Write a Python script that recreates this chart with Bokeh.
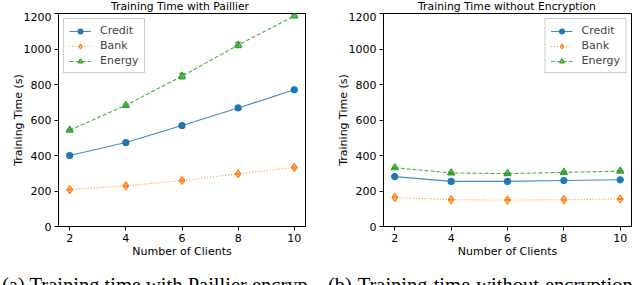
from bokeh.plotting import figure
from bokeh.layouts import row, column
from bokeh.models import (ColumnDataSource, Whisker, TeeHead, Legend, LegendItem,
                          FixedTicker, Range1d, Div)
from bokeh.embed import file_html
from bokeh.resources import INLINE

clients = [2, 4, 6, 8, 10]

# Training time with Paillier (left)
credit_pail = [400, 473, 569, 668, 770]
bank_pail = [208, 229, 259, 297, 333]
energy_pail = [543, 683, 847, 1022, 1186]
credit_pail_err = [3, 4, 5, 5, 6]
bank_pail_err = [3, 3, 4, 4, 5]
energy_pail_err = [5, 6, 16, 15, 8]

# Training time without encryption (right)
credit_plain = [281, 254, 254, 259, 263]
bank_plain = [164, 151, 149, 151, 155]
energy_plain = [331, 302, 298, 305, 312]
credit_plain_err = [3, 3, 3, 3, 3]
bank_plain_err = [3, 3, 3, 3, 3]
energy_plain_err = [4, 4, 4, 4, 4]

series_names = ["Credit", "Bank", "Energy"]
colors = ["#1f77b4", "#ff7f0e", "#2ca02c"]
y_ticks = [0, 200, 400, 600, 800, 1000, 1200]

titles = ["Training Time with Paillier", "Training Time without Encryption"]
captions = ["(a) Training time with Paillier encryp-", "(b) Training time without encryption"]

FONT = "DejaVu Sans"


def make_panel(data, errs, left_border, right_border, legend_loc):
    p = figure(width=320, height=250, output_backend="svg", toolbar_location=None,
               x_range=Range1d(1.6, 10.4), y_range=Range1d(0, 1200),
               min_border_left=left_border, min_border_right=right_border,
               min_border_top=1, min_border_bottom=36)
    p.grid.visible = False
    p.outline_line_color = "black"
    p.outline_line_width = 1
    p.background_fill_color = "white"
    p.border_fill_color = "white"
    for ax in (p.xaxis[0], p.yaxis[0]):
        ax.major_tick_out = 4
        ax.major_tick_in = 0
        ax.minor_tick_line_color = None
        ax.axis_line_color = "black"
        ax.major_label_text_font = FONT
        ax.major_label_text_font_size = "11px"
        ax.major_label_text_color = "black"
        ax.axis_label_text_font = FONT
        ax.axis_label_text_font_size = "11px"
        ax.axis_label_text_font_style = "normal"
        ax.axis_label_text_color = "black"
        ax.major_label_standoff = 3
    p.xaxis.axis_label_standoff = 0
    p.yaxis.axis_label_standoff = -4
    p.xaxis.ticker = FixedTicker(ticks=clients)
    p.yaxis.ticker = FixedTicker(ticks=y_ticks)
    p.xaxis.axis_label = "Number of Clients"
    p.yaxis.axis_label = "Training Time (s)"

    items = []
    dashes = ["solid", "1 2", "4 2"]
    markers = ["circle", "diamond", "triangle"]
    fill_alphas = [1.0, 0.3, 0.5]
    sizes = [6, 8, 7]
    for i, name in enumerate(series_names):
        ys = data[i]
        er = errs[i]
        src = ColumnDataSource(dict(x=clients, y=ys,
                                    lo=[a - b for a, b in zip(ys, er)],
                                    hi=[a + b for a, b in zip(ys, er)]))
        lr = p.line("x", "y", source=src, color=colors[i], line_width=1.1,
                    line_dash=dashes[i], line_alpha=0.85)
        sr = p.scatter("x", "y", source=src, marker=markers[i], size=sizes[i],
                       line_color=colors[i], fill_color=colors[i],
                       fill_alpha=fill_alphas[i], line_width=1.2)
        w = Whisker(source=src, base="x", lower="lo", upper="hi",
                    line_color=colors[i], line_width=1,
                    upper_head=TeeHead(size=6, line_color=colors[i]),
                    lower_head=TeeHead(size=6, line_color=colors[i]))
        p.add_layout(w)
        items.append(LegendItem(label=name, renderers=[lr, sr]))

    leg = Legend(items=items, location=legend_loc, margin=5, padding=5,
                 spacing=2, label_height=12, glyph_height=12, glyph_width=22,
                 label_standoff=9, label_text_font=FONT, label_text_font_size="11px",
                 border_line_color="#cccccc", border_line_alpha=1.0,
                 background_fill_alpha=0.8)
    p.add_layout(leg, "center")
    return p


left = make_panel([credit_pail, bank_pail, energy_pail],
                  [credit_pail_err, bank_pail_err, energy_pail_err],
                  58, 15, "top_left")
right = make_panel([credit_plain, bank_plain, energy_plain],
                   [credit_plain_err, bank_plain_err, energy_plain_err],
                   63, 9, "top_right")

title_style = ("position:absolute;top:2px;width:300px;text-align:center;white-space:nowrap;"
               "font-family:'DejaVu Sans',sans-serif;font-size:10.8px;line-height:1;color:#000;")
title_html = (
    '<div style="position:relative;width:640px;height:12px;overflow:hidden;">'
    f'<span style="{title_style}left:30px;">{titles[0]}</span>'
    f'<span style="{title_style}left:357px;">{titles[1]}</span>'
    '</div>'
)
title_div = Div(text=title_html, width=640, height=12,
                styles={"overflow": "hidden", "margin": "0", "padding": "0"})

span_style = ("position:absolute;top:13px;white-space:nowrap;"
              "font-family:'Liberation Serif',serif;font-size:20.5px;line-height:1;color:#000;")
caption_html = (
    '<div style="position:relative;width:640px;height:23px;overflow:hidden;">'
    f'<span style="{span_style}left:2px;">{captions[0]}</span>'
    f'<span style="{span_style}left:328px;word-spacing:1px;">{captions[1]}</span>'
    '</div>'
)
caption_div = Div(text=caption_html, width=640, height=23,
                  styles={"overflow": "hidden", "margin": "0", "padding": "0"})

layout = column(title_div, row(left, right, spacing=0), caption_div, spacing=0)
open("out.html", "w").write(file_html(layout, INLINE))
